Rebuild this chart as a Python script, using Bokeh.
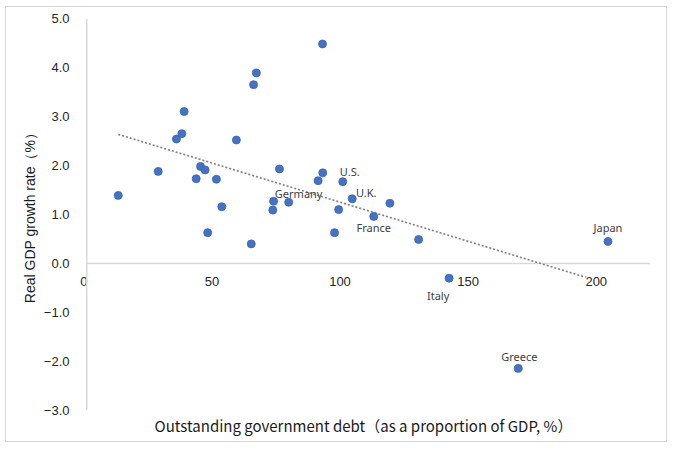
import numpy as np
from bokeh.plotting import figure
from bokeh.models import FixedTicker, Span, ColumnDataSource
from bokeh.core.properties import value
from bokeh.embed import file_html
from bokeh.resources import INLINE

# ---- data ----
debt = [12.3, 27.9, 35.0, 37.1, 38.0, 42.7, 44.4, 46.2, 50.6, 52.7,
        58.4, 65.1, 66.2, 75.2, 72.9, 72.6, 78.8, 90.3, 92.1, 92.0,
        98.3, 99.9, 103.6, 118.3, 112.0, 47.2, 64.2, 96.7, 129.5, 203.4,
        141.4, 168.4]
growth = [1.39, 1.88, 2.54, 2.65, 3.10, 1.73, 1.98, 1.91, 1.72, 1.16,
          2.52, 3.65, 3.89, 1.93, 1.27, 1.09, 1.25, 1.69, 1.85, 4.48,
          1.10, 1.67, 1.32, 1.23, 0.96, 0.63, 0.40, 0.63, 0.49, 0.45,
          -0.30, -2.14]
labelled_countries = ["Germany", "U.S.", "U.K.", "France", "Japan", "Italy", "Greece"]
labelled_index = [16, 21, 22, 24, 29, 30, 31]

x_axis_min, x_axis_max = 0, 220
x_ticks = [0, 50, 100, 150, 200]
x_tick_labels = ["0", "50", "100", "150", "200"]
y_ticks = [-3, -2, -1, 0, 1, 2, 3, 4, 5]
y_tick_labels = ["\u22123.0", "\u22122.0", "\u22121.0", "0.0", "1.0", "2.0", "3.0", "4.0", "5.0"]

x_title = "Outstanding government debt\uff08as a proportion of GDP, %\uff09"
y_title = "Real GDP growth rate\uff08%\uff09"

# ---- styling ----
JP = "Noto Sans CJK JP"
SANS = "Liberation Sans"
AXIS_GREY = "#d9d9d9"
label_offsets = {"Germany": (10, -9), "U.S.": (7, -10), "U.K.": (14, -6),
                 "France": (0, 11), "Japan": (0, -14), "Italy": (-11, 17),
                 "Greece": (1, -12)}

p = figure(width=662, height=436, x_range=(x_axis_min - 4, x_axis_max), y_range=(-3, 5),
           output_backend="svg", toolbar_location=None,
           min_border_left=70, min_border_right=18, min_border_top=11,
           min_border_bottom=33, outline_line_color=None,
           background_fill_color="white", border_fill_color="white")
p.styles = {"border": "1px solid #d9d9d9", "margin-left": "5px", "margin-top": "6px"}
p.xgrid.visible = False
p.ygrid.visible = False

# y axis (line drawn as a span at x = 0)
p.yaxis.ticker = FixedTicker(ticks=y_ticks)
p.yaxis.major_label_overrides = {t: l for t, l in zip(y_ticks, y_tick_labels)}
p.yaxis.axis_line_color = None
p.yaxis.major_tick_line_color = None
p.yaxis.minor_tick_line_color = None
p.yaxis.major_tick_out = 0
p.yaxis.major_label_standoff = 7
p.yaxis.major_label_text_font = SANS
p.yaxis.major_label_text_font_size = "13px"
p.yaxis.major_label_text_color = "#262626"
p.yaxis.axis_label = y_title
p.yaxis.axis_label_text_font = SANS
p.yaxis.axis_label_text_font_size = "14px"
p.yaxis.axis_label_text_font_style = "normal"
p.yaxis.axis_label_text_color = "#1a1a1a"
p.yaxis.axis_label_standoff = 3

# x axis (only title below; zero line drawn in the middle)
p.xaxis.ticker = FixedTicker(ticks=[])
p.xaxis.axis_line_color = None
p.xaxis.major_tick_line_color = None
p.xaxis.minor_tick_line_color = None
p.xaxis.axis_label = x_title
p.xaxis.axis_label_text_font = JP
p.xaxis.axis_label_text_font_size = "15px"
p.xaxis.axis_label_text_font_style = "normal"
p.xaxis.axis_label_text_color = "#1a1a1a"
p.xaxis.axis_label_standoff = 4

p.add_layout(Span(location=x_axis_min, dimension="height", line_color=AXIS_GREY, line_width=1.5))
p.segment(x0=[x_axis_min], y0=[0], x1=[x_axis_max], y1=[0], line_color=AXIS_GREY, line_width=1.5)

# trend line (least squares fit)
coef = np.polyfit(debt, growth, 1)
tx = [min(debt), max(debt)]
ty = list(np.polyval(coef, tx))
p.line(tx, ty, line_color="#7f7f7f", line_width=1.6, line_dash="2 2")

# points
src = ColumnDataSource(dict(x=debt, y=growth))
p.scatter("x", "y", source=src, size=8, fill_color="#4472C4",
          line_color="#3a64b0", line_width=0.8)

# x tick labels at the zero line
p.text(x=x_ticks, y=[0] * len(x_ticks), text=x_tick_labels,
       text_align="center", text_baseline="middle", x_offset=-3, y_offset=18,
       text_font=value(SANS), text_font_size="13px", text_color="#262626",
       background_fill_color="white")

# country labels
for name, idx in zip(labelled_countries, labelled_index):
    dx, dy = label_offsets[name]
    p.text(x=[debt[idx]], y=[growth[idx]], text=[name], text_align="center",
           text_baseline="middle", x_offset=dx, y_offset=dy,
           text_font=value("Noto Sans"), text_font_size="11px", text_color="#404040")

open("out.html", "w").write(file_html(p, INLINE))
